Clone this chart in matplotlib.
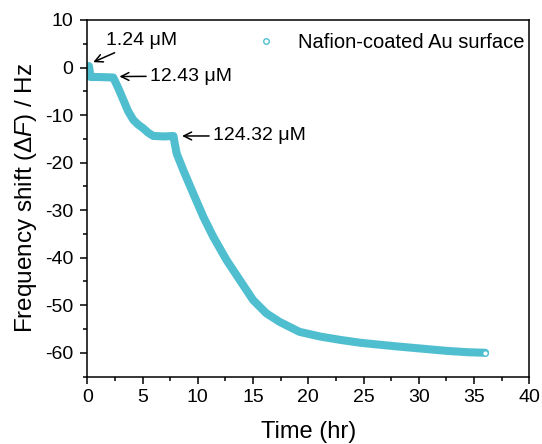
import matplotlib
matplotlib.use("Agg")
import matplotlib.pyplot as plt
from matplotlib.lines import Line2D
from matplotlib.ticker import MultipleLocator

plt.rcParams["font.family"] = ["Liberation Sans", "DejaVu Sans"]
plt.rcParams["mathtext.fontset"] = "custom"
plt.rcParams["mathtext.rm"] = "Liberation Sans"
plt.rcParams["mathtext.it"] = "Liberation Sans:italic"
plt.rcParams["axes.unicode_minus"] = False

# data
time_hr = [0.0, 0.15, 0.3, 1.0, 2.35, 2.8, 3.26, 3.7, 4.16, 4.6, 5.07, 5.5,
           5.97, 7.0, 7.8, 7.9, 8.09, 8.69, 9.59, 10.5, 11.4, 12.6, 13.8, 15.0,
           16.2, 17.4, 19.2, 21.1, 22.9, 24.7, 27.7, 30.1, 32.5, 34.5, 36.0]
shift_hz = [0.0, 0.3, -2.0, -2.0, -2.1, -4.3, -6.8, -9.2, -11.0, -12.0, -12.8, -13.7,
            -14.4, -14.5, -14.4, -15.8, -18.1, -21.6, -26.5, -31.4, -35.6, -40.5, -44.7, -48.9,
            -51.7, -53.5, -55.6, -56.6, -57.3, -57.9, -58.6, -59.1, -59.6, -59.9, -60.0]

additions = ["1.24 \u03bcM", "12.43 \u03bcM", "124.32 \u03bcM"]
series_label = "Nafion-coated Au surface"
cyan = "#4fbfd0"

fig = plt.figure(figsize=(5.42, 4.44), dpi=100)
ax = fig.add_axes([0.161, 0.152, 0.8156, 0.803])

ax.plot(time_hr, shift_hz, color=cyan, lw=5.8, solid_capstyle="round",
        solid_joinstyle="round")
ax.plot(time_hr[-1], shift_hz[-1], "o", ms=4, mfc="white", mec=cyan, mew=1.0)

# arrows marking the additions
arrow = dict(arrowstyle="->", color="black", lw=1.1, shrinkA=1)
ax.annotate(additions[0], xy=(0.31, 0.9), xytext=(1.7, 5.6), fontsize=14,
            va="center", ha="left", arrowprops=arrow)
ax.annotate(additions[1], xy=(2.66, -1.9), xytext=(5.7, -1.8), fontsize=14,
            va="center", ha="left", arrowprops=arrow)
ax.annotate(additions[2], xy=(8.33, -14.4), xytext=(11.4, -14.4), fontsize=14,
            va="center", ha="left", arrowprops=arrow)

ax.set_xlim(0, 40)
ax.set_ylim(-65, 10)
ax.xaxis.set_major_locator(MultipleLocator(5))
ax.xaxis.set_minor_locator(MultipleLocator(2.5))
ax.yaxis.set_major_locator(MultipleLocator(10))
ax.yaxis.set_minor_locator(MultipleLocator(5))
ax.tick_params(which="both", direction="out", width=1.1, labelsize=14)
ax.tick_params(which="major", length=5)
ax.tick_params(which="minor", length=3)
ax.tick_params(axis="x", pad=4)
ax.tick_params(axis="y", pad=5)
for s in ax.spines.values():
    s.set_linewidth(1.1)

ax.set_xlabel("Time (hr)", fontsize=17, labelpad=11)
ax.set_ylabel(r"Frequency shift ($\Delta$$\it{F}$) / Hz", fontsize=17.5, labelpad=4)

handle = Line2D([], [], ls="none", marker="o", ms=4, mfc="white", mec=cyan, mew=1.0)
ax.legend([handle], [series_label], loc="upper right", frameon=False, fontsize=14.5,
          handletextpad=0.6, borderpad=0.1, borderaxespad=0.15,
          bbox_to_anchor=(1.0, 0.977))

fig.savefig("out.png", dpi=100)
